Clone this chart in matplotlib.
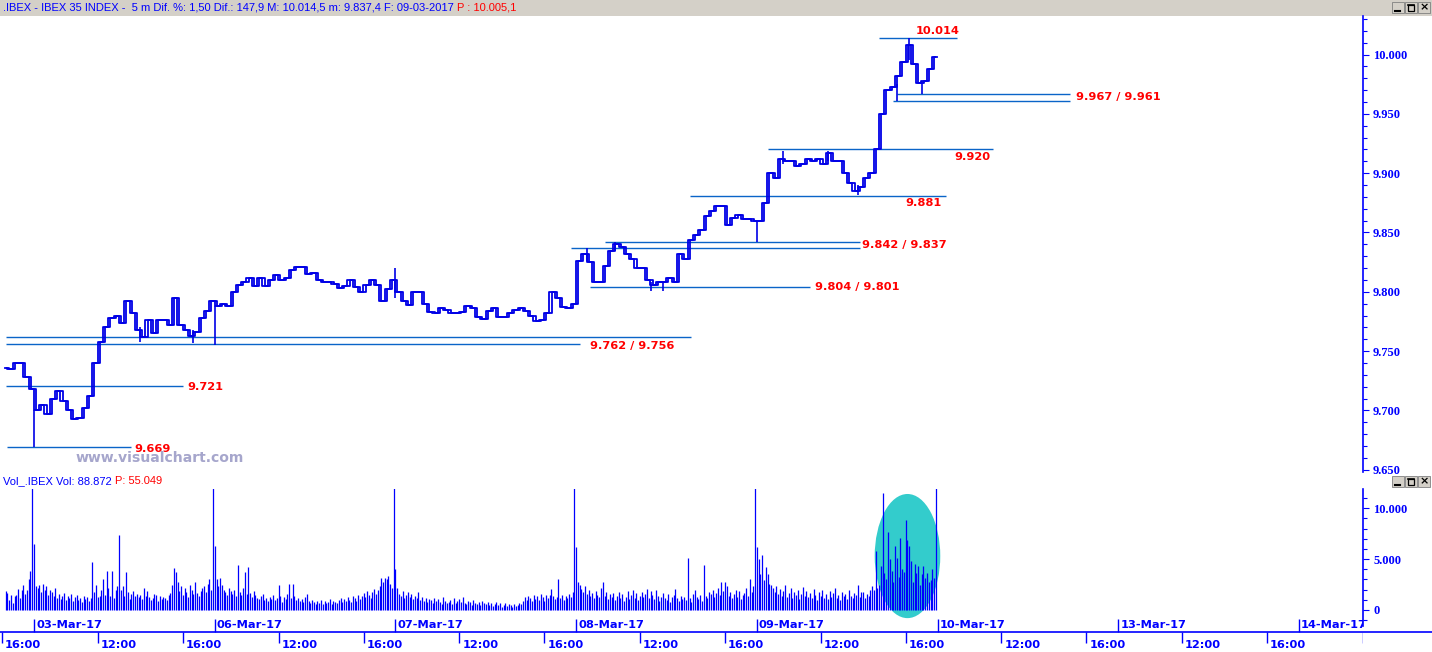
import numpy as np
import matplotlib
matplotlib.use("Agg")
import matplotlib.pyplot as plt
import matplotlib.transforms as mtransforms
from matplotlib.patches import Rectangle, Ellipse
from matplotlib.lines import Line2D
from matplotlib.ticker import MultipleLocator

# ---------------------------------------------------------------- data
title_main = ".IBEX - IBEX 35 INDEX -  5 m Dif. %: 1,50 Dif.: 147,9 M: 10.014,5 m: 9.837,4 F: 09-03-2017 "
title_last = "P : 10.005,1"
vol_title_main = "Vol_.IBEX Vol: 88.872 "
vol_title_last = "P: 55.049"
watermark = "www.visualchart.com"

session_days = ["02-Mar", "03-Mar", "06-Mar", "07-Mar", "08-Mar",
                "09-Mar", "10-Mar", "13-Mar", "14-Mar"]
date_labels = ["03-Mar-17", "06-Mar-17", "07-Mar-17", "08-Mar-17",
               "09-Mar-17", "10-Mar-17", "13-Mar-17", "14-Mar-17"]
time_labels = ["12:00", "16:00"]

# closes sampled every 15 minutes (first sample time per day below)
close_first = {"02-Mar": "16:10", "03-Mar": "09:10", "06-Mar": "09:10",
               "07-Mar": "09:10", "08-Mar": "09:10", "09-Mar": "09:10"}
close_0302 = [9736, 9735, 9740, 9740, 9728, 9718]
close_0303 = [9700, 9705, 9697, 9710, 9716, 9708, 9700, 9693, 9694, 9702,
              9712, 9740, 9758, 9770, 9778, 9780, 9774, 9792, 9782, 9768,
              9762, 9776, 9765, 9776, 9776, 9772, 9795, 9772, 9768, 9763,
              9766, 9778, 9784, 9792]
close_0306 = [9788, 9790, 9788, 9800, 9806, 9808, 9812, 9805, 9812, 9805,
              9810, 9814, 9810, 9812, 9818, 9821, 9821, 9815, 9816, 9810,
              9808, 9808, 9807, 9803, 9805, 9810, 9804, 9800, 9806, 9810,
              9806, 9792, 9802, 9810]
close_0307 = [9800, 9792, 9789, 9800, 9800, 9790, 9783, 9782, 9786, 9785,
              9782, 9782, 9783, 9788, 9786, 9779, 9777, 9784, 9786, 9779,
              9779, 9782, 9785, 9786, 9784, 9780, 9775, 9776, 9782, 9800,
              9795, 9787, 9786, 9790]
close_0308 = [9826, 9832, 9825, 9808, 9808, 9822, 9834, 9840, 9838, 9832,
              9828, 9820, 9820, 9810, 9806, 9808, 9808, 9812, 9808, 9832,
              9828, 9844, 9848, 9852, 9864, 9868, 9872, 9872, 9856, 9862,
              9865, 9861, 9861, 9860]
close_0309 = [9860, 9875, 9900, 9896, 9912, 9910, 9910, 9906, 9908, 9912,
              9910, 9912, 9908, 9917, 9910, 9910, 9900, 9892, 9885, 9888,
              9896, 9900, 9920, 9950, 9970, 9973, 9982, 9994, 10008, 9992,
              9976, 9978, 9988, 9998]

# notable bar extremes (time, low, high)
wicks = [("03-Mar 09:00", 9669, 9700), ("03-Mar 14:00", 9758, 9770),
         ("03-Mar 16:30", 9757, 9768), ("06-Mar 09:00", 9755, 9788),
         ("07-Mar 09:00", 9795, 9820), ("08-Mar 09:30", 9826, 9837),
         ("08-Mar 10:50", 9834, 9842), ("08-Mar 12:30", 9801, 9808),
         ("08-Mar 13:05", 9801, 9808), ("09-Mar 09:00", 9842, 9860),
         ("09-Mar 10:15", 9908, 9919), ("09-Mar 12:20", 9910, 9919),
         ("09-Mar 13:45", 9882, 9890), ("09-Mar 15:35", 9961, 9975),
         ("09-Mar 16:10", 9995, 10014), ("09-Mar 16:45", 9967, 9978)]

# support / resistance lines (price, from, to)
levels = [(10014, "09-Mar 14:45", "10-Mar 09:55"),
          (9967, "09-Mar 15:35", "10-Mar 15:15"),
          (9961, "09-Mar 15:25", "10-Mar 15:15"),
          (9920, "09-Mar 09:30", "10-Mar 11:35"),
          (9881, "08-Mar 14:20", "10-Mar 09:25"),
          (9842, "08-Mar 10:20", "09-Mar 13:50"),
          (9837, "07-Mar 17:15", "09-Mar 13:50"),
          (9804, "08-Mar 09:40", "09-Mar 11:30"),
          (9762, "02-Mar 16:10", "08-Mar 14:25"),
          (9756, "02-Mar 16:10", "08-Mar 09:10"),
          (9721, "02-Mar 16:10", "03-Mar 16:00"),
          (9669, "02-Mar 16:15", "03-Mar 13:35")]
level_texts = ["10.014", "9.967 / 9.961", "9.920", "9.881", "9.842 / 9.837",
               "9.804 / 9.801", "9.762 / 9.756", "9.721", "9.669"]

# volume per 5-minute bar, in hundreds
vol_first = {"02-Mar": "16:10", "03-Mar": "09:00", "06-Mar": "09:00",
             "07-Mar": "09:00", "08-Mar": "09:00", "09-Mar": "09:00"}
vol_0302 = [19, 17, 10, 15, 7, 14, 15, 21, 12, 20, 25, 16, 20, 30, 38, 160]
vol_0303 = [65, 24, 22, 25, 18, 26, 20, 24, 15, 20,
            18, 14, 22, 12, 16, 11, 14, 17, 10, 14,
            12, 16, 9, 13, 15, 10, 12, 8, 14, 11,
            13, 9, 12, 47, 18, 25, 13, 14, 20, 30,
            15, 38, 22, 14, 38, 12, 20, 24, 74, 20,
            24, 14, 37, 18, 11, 16, 19, 14, 16, 13,
            15, 11, 22, 14, 19, 13, 10, 12, 16, 15,
            9, 14, 11, 13, 12, 10, 15, 17, 25, 41,
            37, 28, 19, 24, 15, 22, 18, 13, 25, 20,
            16, 28, 17, 14, 19, 22, 24, 18, 26, 30,
            20, 140]
vol_0306 = [63, 30, 24, 31, 25, 20, 18, 15, 22, 19,
            16, 20, 14, 44, 18, 15, 22, 37, 16, 42,
            17, 13, 19, 15, 12, 11, 14, 16, 10, 12,
            9, 13, 11, 15, 10, 12, 25, 14, 8, 13,
            11, 16, 26, 12, 26, 14, 10, 12, 9, 11,
            8, 13, 16, 9, 7, 10, 8, 6, 9, 7,
            10, 6, 9, 7, 8, 11, 6, 9, 8, 7,
            10, 12, 8, 11, 9, 13, 10, 8, 14, 12,
            9, 15, 11, 14, 17, 13, 19, 15, 12, 18,
            21, 16, 20, 24, 31, 28, 31, 30, 33, 26,
            22, 150]
vol_0307 = [40, 22, 16, 14, 19, 12, 15, 18, 13, 16,
            11, 14, 12, 18, 10, 13, 9, 12, 8, 11,
            10, 7, 12, 9, 11, 8, 6, 13, 9, 7,
            8, 10, 6, 12, 7, 9, 11, 8, 13, 7,
            6, 9, 8, 5, 10, 7, 6, 8, 5, 9,
            7, 6, 8, 5, 7, 4, 6, 8, 5, 7,
            3, 5, 7, 4, 6, 5, 3, 6, 4, 5,
            7, 6, 9, 13, 10, 14, 12, 9, 15, 11,
            14, 10, 16, 13, 9, 15, 12, 15, 21, 14,
            11, 13, 30, 12, 15, 10, 14, 12, 16, 13,
            18, 150]
vol_0308 = [62, 28, 25, 21, 18, 24, 16, 20, 14, 17,
            12, 19, 15, 13, 22, 28, 14, 18, 11, 16,
            13, 17, 10, 14, 18, 12, 16, 9, 13, 19,
            11, 15, 20, 12, 17, 10, 14, 18, 13, 16,
            21, 12, 19, 15, 11, 20, 14, 9, 13, 17,
            12, 10, 16, 8, 13, 15, 21, 12, 9, 14,
            11, 13, 10, 51, 12, 8, 16, 20, 13, 11,
            15, 9, 44, 14, 12, 18, 16, 20, 13, 17,
            22, 15, 28, 19, 28, 24, 14, 18, 12, 16,
            20, 13, 19, 11, 15, 17, 22, 14, 30, 18,
            24, 155]
vol_0309 = [62, 50, 35, 54, 29, 42, 35, 26, 25, 22,
            18, 24, 16, 21, 14, 19, 25, 13, 17, 22,
            12, 18, 15, 20, 11, 16, 23, 14, 19, 13,
            17, 12, 21, 15, 10, 18, 14, 20, 12, 16,
            11, 19, 13, 17, 22, 12, 15, 10, 18, 14,
            16, 11, 20, 14, 12, 17, 15, 25, 13, 18,
            18, 12, 16, 14, 20, 24, 20, 58, 22, 25,
            43, 115, 36, 30, 77, 50, 38, 28, 63, 51,
            32, 71, 40, 37, 88, 69, 63, 48, 28, 45,
            36, 43, 25, 35, 43, 31, 36, 28, 29, 40,
            31, 150]

closes = {"02-Mar": close_0302, "03-Mar": close_0303, "06-Mar": close_0306,
          "07-Mar": close_0307, "08-Mar": close_0308, "09-Mar": close_0309}
volumes = {"02-Mar": vol_0302, "03-Mar": vol_0303, "06-Mar": vol_0306,
           "07-Mar": vol_0307, "08-Mar": vol_0308, "09-Mar": vol_0309}

# ---------------------------------------------------------------- helpers
W, H = 1432, 652
BARS_PER_DAY = 102
day_pos = {d: i - 1 for i, d in enumerate(session_days)}


def bar_of(stamp):
    d, t = stamp.split()
    hh, mm = (int(v) for v in t.split(":"))
    return day_pos[d] * BARS_PER_DAY + ((hh - 9) * 60 + mm) / 5.0


def fx(px):
    return px / W


def fy(py):
    return 1 - py / H


BLUE = "#0000FF"
LINEBLUE = "#0000E6"
LEVEL = "#0A64C8"
RED = "#FF0000"
CYAN = "#33CCCC"
GRAY = "#D4D0C8"

fig = plt.figure(figsize=(W / 100, H / 100), dpi=100)
fig.patch.set_facecolor("white")

XL = (-19.2, 750.1)

# ---------------------------------------------------------------- price panel
ax = fig.add_axes([0, fy(472), fx(1363), (472 - 16) / H])
ax.set_xlim(*XL)
ax.set_ylim(9648.1, 10032.5)

px_x, px_y = [], []
for d in closes:
    b0 = bar_of(d + " " + close_first[d])
    vals = closes[d]
    px_x.extend(b0 + 3 * np.arange(len(vals)))
    px_y.extend(vals)
px_x = np.array(px_x)
# two slightly offset step traces give the hollow-candle look of the original
ax.plot(px_x - 0.6, px_y, drawstyle="steps-mid", color=LINEBLUE, lw=1.3, zorder=3)
ax.plot(px_x + 0.6, px_y, drawstyle="steps-mid", color=LINEBLUE, lw=1.3, zorder=3)

wx = [bar_of(w[0]) for w in wicks]
ax.vlines(wx, [w[1] for w in wicks], [w[2] for w in wicks], color=LINEBLUE, lw=1.2, zorder=3)

lv_val = [l[0] for l in levels]
lv_x0 = [bar_of(l[1]) for l in levels]
lv_x1 = [bar_of(l[2]) for l in levels]
ax.hlines(lv_val, lv_x0, lv_x1, color=LEVEL, lw=1.0, zorder=2)

# label placement: (level index, dx px, dy px, ha)
label_place = [(0, 2, 7, "right"), (1, 6, -3.5, "left"), (3, -2, -8, "right"),
               (4, -5, -7, "right"), (5, 2, -3.5, "left"), (7, 5, 0, "left"),
               (9, 10, -2, "left"), (10, 5, -1, "left"), (11, 3, -2, "left")]
for txt, (li, dx, dy, ha) in zip(level_texts, label_place):
    ax.annotate(txt, xy=(lv_x1[li], lv_val[li]), xytext=(dx * 0.72, dy * 0.72),
                textcoords="offset points", ha=ha, va="center", color=RED,
                fontfamily="DejaVu Sans", fontweight="bold", fontsize=8.2, zorder=4)

for s in ["left", "top", "bottom"]:
    ax.spines[s].set_visible(False)
ax.spines["right"].set_color(BLUE)
ax.spines["right"].set_linewidth(1.2)
ax.set_xticks([])
ax.yaxis.tick_right()
pt = np.arange(9650, 10001, 50)
ax.set_yticks(pt, labels=[f"{v / 1000:.3f}" for v in pt], fontfamily="Liberation Serif",
              fontweight="bold", fontsize=9)
ax.yaxis.set_minor_locator(MultipleLocator(10))
ax.tick_params(axis="y", which="major", length=6 * 0.72, width=0.8, color=BLUE,
               pad=4 * 0.72, labelcolor=BLUE)
ax.tick_params(axis="y", which="minor", length=4 * 0.72, width=0.8, color=BLUE)

fig.text(fx(160), fy(458), watermark, ha="center", va="center", color="#A6A6CC",
         fontfamily="DejaVu Sans", fontweight="bold", fontsize=10.1)

# ---------------------------------------------------------------- volume panel
axv = fig.add_axes([0, fy(626), fx(1363), (626 - 489) / H])
axv.set_xlim(*XL)
axv.set_ylim(-1573, 11890)

vx, vv = [], []
for d in volumes:
    b0 = bar_of(d + " " + vol_first[d])
    vals = volumes[d]
    vx.extend(b0 + np.arange(len(vals)))
    vv.extend(np.array(vals) * 100)
axv.add_patch(Ellipse((bar_of("09-Mar 16:05"), 5300), 37.0, 12200,
                      facecolor=CYAN, edgecolor="none", zorder=1))
axv.vlines(vx, 0, vv, color=BLUE, lw=0.9, zorder=2)

for s in ["left", "top", "bottom"]:
    axv.spines[s].set_visible(False)
axv.spines["right"].set_color(BLUE)
axv.spines["right"].set_linewidth(1.2)
axv.set_xticks([])
axv.yaxis.tick_right()
vt = [0, 5000, 10000]
axv.set_yticks(vt, labels=["0" if v == 0 else f"{v / 1000:.3f}" for v in vt],
               fontfamily="Liberation Serif", fontweight="bold", fontsize=9)
axv.yaxis.set_minor_locator(MultipleLocator(1000))
axv.tick_params(axis="y", which="major", length=6 * 0.72, width=0.8, color=BLUE,
                pad=4 * 0.72, labelcolor=BLUE)
axv.tick_params(axis="y", which="minor", length=4 * 0.72, width=0.8, color=BLUE)

# ---------------------------------------------------------------- time axis
axt = fig.add_axes([0, fy(652), fx(1363), (652 - 612) / H])
axt.set_facecolor("none")
axt.set_xlim(*XL)
axt.set_ylim(652, 612)
axt.axis("off")
fig.add_artist(Line2D([0, 1], [fy(632), fy(632)], color=BLUE, lw=1.2))

date_bars = [bar_of(d + " 09:00") for d in session_days[1:]]
time_bars, time_txt = [], []
for d in session_days:
    for t in time_labels:
        time_bars.append(bar_of(d + " " + t))
        time_txt.append(t)
axt.vlines(date_bars, 619, 632, color=BLUE, lw=1.0)
axt.vlines(time_bars, 632, 643, color=BLUE, lw=1.0)
off_d = mtransforms.offset_copy(axt.transData, fig=fig, x=2, y=0, units="dots")
off_t = mtransforms.offset_copy(axt.transData, fig=fig, x=3, y=0, units="dots")
for b, lab in zip(date_bars, date_labels):
    axt.text(b, 625, lab, transform=off_d, ha="left", va="center", color=BLUE,
             fontfamily="DejaVu Sans", fontweight="bold", fontsize=8.2, clip_on=True)
for b, lab in zip(time_bars, time_txt):
    axt.text(b, 645.5, lab, transform=off_t, ha="left", va="center", color=BLUE,
             fontfamily="DejaVu Sans", fontweight="bold", fontsize=8.2, clip_on=True)

# ---------------------------------------------------------------- window chrome
fig.add_artist(Rectangle((0, fy(16)), 1, 16 / H, transform=fig.transFigure,
                         facecolor=GRAY, edgecolor="none", zorder=0))


def buttons(ytop):
    for x0 in [1392, 1405, 1418]:
        fig.add_artist(Rectangle((fx(x0), fy(ytop + 11)), 12 / W, 11 / H,
                                 transform=fig.transFigure, facecolor=GRAY,
                                 edgecolor="#808080", lw=0.6, zorder=5))
    fig.add_artist(Line2D([fx(1395), fx(1400)], [fy(ytop + 8.5)] * 2, color="black",
                          lw=1.5, zorder=6))
    fig.add_artist(Rectangle((fx(1408), fy(ytop + 9)), 6 / W, 6 / H,
                             transform=fig.transFigure, facecolor="none",
                             edgecolor="black", lw=0.9, zorder=6))
    fig.add_artist(Line2D([fx(1408), fx(1414)], [fy(ytop + 3.3)] * 2, color="black",
                          lw=1.2, zorder=6))
    fig.text(fx(1424), fy(ytop + 5.5), "\u00d7", ha="center", va="center",
             fontsize=8, color="black", fontweight="bold", zorder=6)


buttons(2)
buttons(476)

renderer = fig.canvas.get_renderer()
t1 = fig.text(fx(3), fy(8), title_main, ha="left", va="center", color=BLUE,
              fontfamily="Liberation Sans", fontsize=8)
bb = t1.get_window_extent(renderer=renderer)
fig.text(bb.x1 / W, fy(8), title_last, ha="left", va="center", color=RED,
         fontfamily="Liberation Sans", fontsize=8)
t2 = fig.text(fx(3), fy(481), vol_title_main, ha="left", va="center", color=BLUE,
              fontfamily="Liberation Sans", fontsize=8)
bb2 = t2.get_window_extent(renderer=renderer)
fig.text(bb2.x1 / W, fy(481), vol_title_last, ha="left", va="center", color=RED,
         fontfamily="Liberation Sans", fontsize=8)

fig.savefig("out.png", dpi=100)
